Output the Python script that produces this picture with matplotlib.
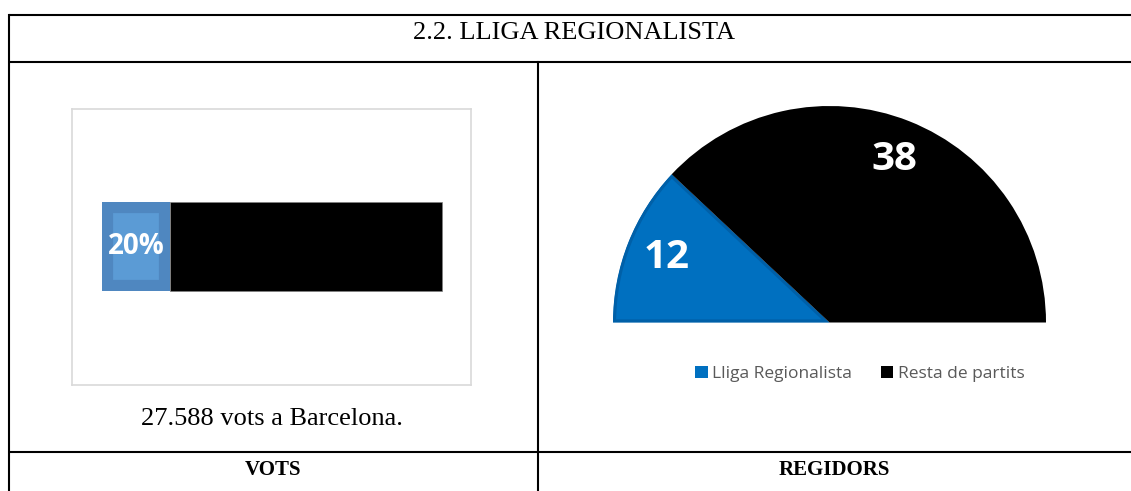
import matplotlib
matplotlib.use("Agg")
import numpy as np
import matplotlib.pyplot as plt
from matplotlib.patches import Patch

# Data
title = "2.2. LLIGA REGIONALISTA"
vote_labels = ["Lliga Regionalista", "Resta de partits"]
vote_share = [20, 80]  # percent of votes in Barcelona
vote_note = "27.588 vots a Barcelona."
seat_labels = ["Lliga Regionalista", "Resta de partits"]
seats = [12, 38]
col_headers = ["VOTS", "REGIDORS"]

W, H = 1131, 491
fig = plt.figure(figsize=(W / 100, H / 100), dpi=100)


def px_box(x0, y0, x1, y1):
    return [x0 / W, 1 - y1 / H, (x1 - x0) / W, (y1 - y0) / H]


serif = "Liberation Serif"
sans = "Open Sans"

# Table frame drawn in pixel coordinates
ax = fig.add_axes([0, 0, 1, 1])
ax.set_xlim(0, W)
ax.set_ylim(H, 0)
ax.axis("off")
lw = 1.5
for y in [15, 62, 452]:
    ax.plot([9, W], [y, y], color="black", lw=lw, solid_capstyle="butt")
ax.plot([9, 9], [15, H], color="black", lw=lw)
ax.plot([538, 538], [62, H], color="black", lw=lw)

ax.text(574, 39, title, ha="center", va="baseline", fontsize=19, family=serif)
ax.text(272, 425, vote_note, ha="center", va="baseline", fontsize=19, family=serif)
ax.text(273, 475, col_headers[0], ha="center", va="baseline", fontsize=15,
        family=serif, fontweight="bold")
ax.text(834, 475, col_headers[1], ha="center", va="baseline", fontsize=15,
        family=serif, fontweight="bold")

# Stacked bar for votes
bx0, by0, bx1, by1 = 72, 109, 471, 385
axb = fig.add_axes(px_box(bx0, by0, bx1, by1))
scale = (442 - 102) / 100
axb.set_xlim(-(102 - bx0) / scale, (bx1 - 102) / scale)
bar_h = 1.0
unit = (291 - 202) / bar_h
axb.set_ylim(-(by1 - 246.5) / unit, (246.5 - by0) / unit)
axb.set_xticks([])
axb.set_yticks([])
for s in axb.spines.values():
    s.set_color("#D9D9D9")
    s.set_linewidth(1.2)

b1 = axb.barh(0, vote_share[0], height=bar_h, color="#5B9BD5",
              edgecolor="#4F87C0", linewidth=16)[0]
b1.set_clip_path(b1)
axb.barh(0, vote_share[1], left=vote_share[0], height=bar_h, color="black",
         edgecolor="#808080", linewidth=0.5)
axb.text(vote_share[0] / 2, 0, f"{vote_share[0]}%", ha="center", va="center",
         color="white", fontsize=20, fontweight="bold", family=sans)

# Half pie for seats
cx, cy, r = 829.5, 322.5, 216.5
px0, py0, px1, py1 = cx - r, 100, cx + r, 332
axp = fig.add_axes(px_box(px0, py0, px1, py1))
axp.patch.set_alpha(0)
vals = seats + [sum(seats)]
wedges, _ = axp.pie(vals, startangle=180, counterclock=False,
                    colors=["#0070C0", "black", "none"])
wedges[2].set_visible(False)
for w, v in zip(wedges[:2], seats):
    ang = np.deg2rad((w.theta1 + w.theta2) / 2)
    axp.text(0.81 * np.cos(ang), 0.81 * np.sin(ang), str(v), ha="center",
             va="center", color="white", fontsize=29, fontweight="bold",
             family=sans)
axp.set_aspect("auto")
axp.set_xlim(-1, 1)
axp.set_ylim(-(py1 - cy) / r, (cy - py0) / r)
# darker rim on the blue wedge, kept inside the wedge
w0 = wedges[0]
w0.set_edgecolor("#0060A8")
w0.set_linewidth(4.5)
w0.set_clip_on(True)
w0.set_clip_path(w0)

handles = [Patch(facecolor="#0070C0"), Patch(facecolor="black")]
ax.legend(handles, seat_labels, loc="center", bbox_to_anchor=(860, 374),
          bbox_transform=ax.transData, ncol=2, frameon=False,
          handlelength=0.7, handleheight=0.7, handletextpad=0.25,
          columnspacing=1.7, prop={"family": sans, "size": 12.5},
          labelcolor="#595959")

fig.savefig("out.png", dpi=100)
